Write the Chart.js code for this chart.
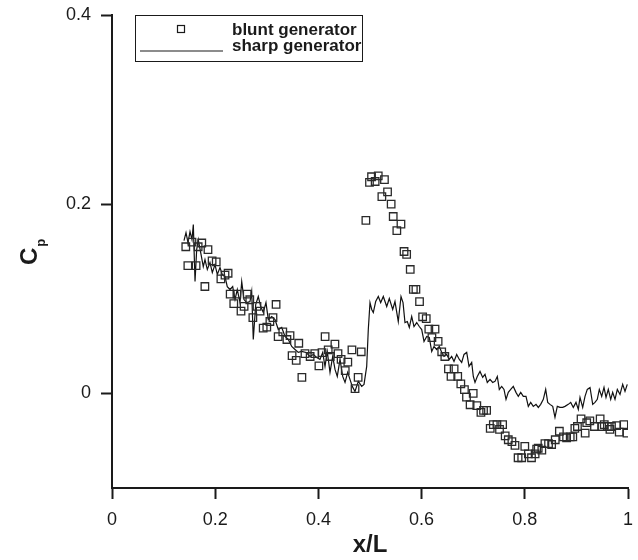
<!DOCTYPE html>
<html>
<head>
<meta charset="utf-8">
<script src="https://cdn.jsdelivr.net/npm/chart.js@4.4.1/dist/chart.umd.min.js"></script>
<style>
html,body{margin:0;padding:0;background:#fff;}
canvas{display:block;}
</style>
</head>
<body>
<canvas id="c" width="638" height="560"></canvas>
<script>
// ---- data ----
const seriesNames = ['blunt generator', 'sharp generator'];
const xTickValues = [0, 0.2, 0.4, 0.6, 0.8, 1];
const xTickLabels = ['0', '0.2', '0.4', '0.6', '0.8', '1'];
const yTickValues = [0, 0.2, 0.4];
const yTickLabels = ['0', '0.2', '0.4'];

const bluntX = [0.143,0.147,0.163,0.155,0.174,0.167,0.186,0.180,0.194,0.202,0.211,0.219,0.225,0.229,0.236,0.242,0.250,0.256,0.262,0.267,0.273,0.281,0.287,0.293,0.300,0.306,0.312,0.318,0.322,0.331,0.339,0.345,0.349,0.357,0.362,0.368,0.374,0.384,0.393,0.401,0.407,0.413,0.419,0.423,0.432,0.438,0.444,0.452,0.457,0.465,0.471,0.477,0.483,
0.492,0.499,0.503,0.510,0.516,0.528,0.523,0.534,0.541,0.545,0.560,0.552,0.566,0.571,0.578,0.584,0.589,0.596,0.602,0.609,0.614,0.626,0.620,0.632,0.639,0.645,0.652,0.663,0.657,0.670,0.676,0.683,0.687,0.700,0.694,0.707,0.715,0.720,0.726,0.733,0.739,0.746,0.757,0.751,0.762,0.768,0.775,0.781,0.800,0.787,0.794,0.807,0.813,0.820,0.823,0.826,0.833,0.839,0.846,0.852,0.859,0.867,0.875,0.881,0.888,0.893,0.897,0.902,0.909,0.917,0.920,0.926,0.935,0.946,0.949,0.954,0.960,0.965,0.968,0.978,0.983,0.992,0.998];
const bluntY = [0.155,0.135,0.135,0.160,0.159,0.155,0.152,0.113,0.140,0.139,0.121,0.125,0.127,0.105,0.095,0.105,0.087,0.092,0.105,0.099,0.080,0.092,0.087,0.069,0.070,0.076,0.080,0.094,0.060,0.065,0.057,0.061,0.040,0.035,0.053,0.017,0.042,0.039,0.042,0.029,0.043,0.060,0.046,0.039,0.052,0.042,0.036,0.024,0.033,0.046,0.005,0.017,0.044,
0.183,0.223,0.229,0.224,0.230,0.226,0.208,0.213,0.200,0.187,0.179,0.172,0.150,0.147,0.131,0.110,0.110,0.097,0.081,0.079,0.068,0.068,0.059,0.055,0.044,0.039,0.026,0.026,0.018,0.018,0.010,0.004,-0.004,0.000,-0.012,-0.013,-0.020,-0.018,-0.018,-0.037,-0.033,-0.033,-0.033,-0.038,-0.045,-0.049,-0.051,-0.055,-0.056,-0.068,-0.068,-0.064,-0.068,-0.064,-0.059,-0.058,-0.060,-0.053,-0.053,-0.054,-0.049,-0.040,-0.046,-0.047,-0.046,-0.046,-0.037,-0.035,-0.027,-0.042,-0.031,-0.029,-0.035,-0.027,-0.035,-0.033,-0.035,-0.038,-0.035,-0.034,-0.041,-0.033,-0.042];

const sharpX = [0.1395,0.1434,0.1473,0.1512,0.1550,0.1576,0.1609,0.1641,0.1672,0.1719,0.1769,0.1802,0.1847,0.1899,0.1944,0.1996,0.2041,0.2093,0.2138,0.2190,0.2234,0.2287,0.2339,0.2384,0.2428,0.2481,0.2514,0.2558,0.2610,0.2674,0.2707,0.2738,0.2785,0.2835,0.2882,0.2932,0.2984,0.3029,0.3095,0.3159,0.3223,0.3289,0.3353,0.3417,0.3483,0.3547,0.3610,0.3676,0.3760,0.3837,0.3901,0.3967,0.4031,0.4083,0.4128,0.4172,0.4225,0.4277,0.4322,0.4366,0.4419,0.4471,0.4516,0.4568,0.4612,0.4657,0.4709,0.4773,0.4839,0.4884,0.4936,0.4967,0.5000,
0.5033,0.5064,0.5110,0.5161,0.5207,0.5258,0.5324,0.5374,0.5440,0.5484,0.5548,0.5601,0.5640,0.5678,0.5723,0.5762,0.5808,0.5853,0.5905,0.5955,0.6002,0.6047,0.6099,0.6149,0.6196,0.6240,0.6293,0.6343,0.6390,0.6434,0.6486,0.6537,0.6583,0.6628,0.6680,0.6731,0.6777,0.6822,0.6874,0.6919,0.6971,0.7002,0.7035,0.7079,0.7132,0.7184,0.7229,0.7273,0.7326,0.7378,0.7422,0.7467,0.7506,0.7552,0.7597,0.7636,0.7680,0.7727,0.7777,0.7829,0.7874,0.7921,0.7971,0.8023,0.8068,0.8114,0.8165,0.8217,0.8262,0.8308,0.8359,0.8405,0.8444,0.8488,0.8541,0.8585,0.8630,0.8682,0.8734,0.8779,0.8843,0.8890,0.8940,0.8992,0.9037,0.9070,0.9122,0.9167,0.9211,0.9264,0.9316,0.9360,0.9405,0.9444,0.9490,0.9535,0.9574,0.9618,0.9665,0.9703,0.9748,0.9793,0.9845,0.9897,0.9942,0.9986];
const sharpY = [0.1615,0.1699,0.1594,0.1710,0.1625,0.1784,0.1182,0.1520,0.1625,0.1488,0.1340,0.1414,0.1309,0.1383,0.1277,0.1361,0.1256,0.1330,0.1256,0.1235,0.1129,0.1098,0.1129,0.0992,0.1098,0.0960,0.1182,0.0992,0.0960,0.0971,0.1077,0.0570,0.0939,0.1024,0.0918,0.0855,0.0960,0.0781,0.0813,0.0781,0.0675,0.0697,0.0602,0.0570,0.0496,0.0464,0.0433,0.0443,0.0433,0.0391,0.0412,0.0380,0.0359,0.0433,0.0285,0.0443,0.0222,0.0391,0.0253,0.0179,0.0359,0.0179,0.0116,0.0222,0.0148,0.0074,0.0021,0.0127,0.0074,0.0095,0.0285,0.0675,0.0960,
0.0887,0.0855,0.0971,0.1024,0.0960,0.1024,0.0918,0.1003,0.0887,0.0971,0.0760,0.1024,0.0960,0.0749,0.0760,0.0697,0.0813,0.0707,0.0749,0.0707,0.0675,0.0549,0.0602,0.0591,0.0443,0.0496,0.0464,0.0496,0.0433,0.0391,0.0412,0.0359,0.0391,0.0338,0.0412,0.0359,0.0327,0.0412,0.0433,0.0285,0.0327,0.0179,0.0116,0.0179,0.0232,0.0169,0.0201,0.0116,0.0148,0.0116,0.0127,0.0179,0.0042,0.0074,0.0042,-0.0063,0.0011,0.0042,0.0074,0.0011,-0.0032,0.0011,-0.0032,-0.0032,-0.0137,-0.0095,-0.0137,-0.0116,-0.0148,-0.0116,-0.0063,0.0042,-0.0095,-0.0116,-0.0137,-0.0253,-0.0137,-0.0148,-0.0148,-0.0137,-0.0116,-0.0095,-0.0148,-0.0095,-0.0169,-0.0042,-0.0148,-0.0032,0.0042,0.0063,-0.0116,-0.0095,-0.0063,0.0042,-0.0032,0.0063,-0.0042,0.0042,-0.0063,0.0011,-0.0063,0.0042,-0.0011,0.0095,0.0021,0.0095];

const toPoints = (xs, ys) => xs.map((x, i) => ({x: x, y: ys[i]}));

const FONT = '"Liberation Sans", Arial, Helvetica, sans-serif';
const INK = '#1a1a1a';

const customLegend = {
  id: 'customLegend',
  afterDraw(chart) {
    const ctx = chart.ctx;
    ctx.save();
    ctx.strokeStyle = INK;
    ctx.lineWidth = 1;
    ctx.strokeRect(135.5, 15.5, 227, 46);
    ctx.lineWidth = 1.2;
    ctx.strokeRect(177.5, 25.5, 7, 7);
    ctx.beginPath();
    ctx.moveTo(140, 51);
    ctx.lineTo(223, 51);
    ctx.stroke();
    ctx.fillStyle = INK;
    ctx.font = 'bold 17px ' + FONT;
    ctx.textAlign = 'left';
    ctx.textBaseline = 'alphabetic';
    ctx.fillText(seriesNames[0], 232, 35);
    ctx.fillText(seriesNames[1], 232, 51);
    ctx.restore();
  }
};

const yTitle = {
  id: 'yTitle',
  afterDraw(chart) {
    const ctx = chart.ctx;
    ctx.save();
    ctx.translate(37, 265);
    ctx.rotate(-Math.PI / 2);
    ctx.fillStyle = INK;
    ctx.textAlign = 'left';
    ctx.textBaseline = 'alphabetic';
    ctx.font = 'bold 24px ' + FONT;
    ctx.fillText('C', 0, 0);
    const w = ctx.measureText('C').width;
    ctx.font = 'bold 13px ' + FONT;
    ctx.fillText('p', w + 1, 8);
    ctx.restore();
  }
};

new Chart(document.getElementById('c'), {
  type: 'scatter',
  data: {
    datasets: [
      {
        label: seriesNames[0],
        data: toPoints(bluntX, bluntY),
        showLine: false,
        pointStyle: 'rect',
        pointRadius: 5.3,
        pointBorderWidth: 1.3,
        pointBorderColor: '#2a2a2a',
        pointBackgroundColor: 'rgba(0,0,0,0)',
        borderColor: '#2a2a2a',
        backgroundColor: 'rgba(0,0,0,0)',
        order: 1
      },
      {
        label: seriesNames[1],
        data: toPoints(sharpX, sharpY),
        showLine: true,
        pointRadius: 0,
        borderColor: '#111',
        borderWidth: 1.2,
        tension: 0,
        fill: false,
        order: 2
      }
    ]
  },
  options: {
    responsive: false,
    animation: false,
    devicePixelRatio: 1,
    layout: { padding: { left: 0, right: 10, top: 15, bottom: 0 } },
    plugins: { legend: { display: false }, tooltip: { enabled: false } },
    scales: {
      x: {
        type: 'linear',
        min: 0, max: 1,
        afterFit(s) { s.height = 72; s.paddingLeft = 0; s.paddingRight = 0; },
        afterBuildTicks(s) { s.ticks = xTickValues.map(v => ({value: v})); },
        ticks: {
          autoSkip: false,
          maxRotation: 0,
          padding: 10,
          color: INK,
          font: { family: FONT, size: 18 },
          callback: (v, i) => xTickLabels[i]
        },
        grid: { display: true, drawOnChartArea: false, drawTicks: true, tickLength: 11, tickWidth: 2, color: INK },
        border: { display: true, width: 2, color: INK },
        title: { display: true, text: 'x/L', color: INK, font: { family: FONT, size: 24, weight: 'bold' }, padding: { top: 0, bottom: 0 } }
      },
      y: {
        type: 'linear',
        min: -0.1, max: 0.4,
        afterFit(s) { s.width = 112; s.paddingTop = 0; s.paddingBottom = 0; },
        afterBuildTicks(s) { s.ticks = yTickValues.map(v => ({value: v})); },
        ticks: {
          autoSkip: false,
          padding: 10,
          color: INK,
          font: { family: FONT, size: 18 },
          callback: (v, i) => yTickLabels[i]
        },
        grid: { display: true, drawOnChartArea: false, drawTicks: true, tickLength: 11, tickWidth: 2, color: INK },
        border: { display: true, width: 2, color: INK }
      }
    }
  },
  plugins: [customLegend, yTitle]
});
</script>
</body>
</html>
